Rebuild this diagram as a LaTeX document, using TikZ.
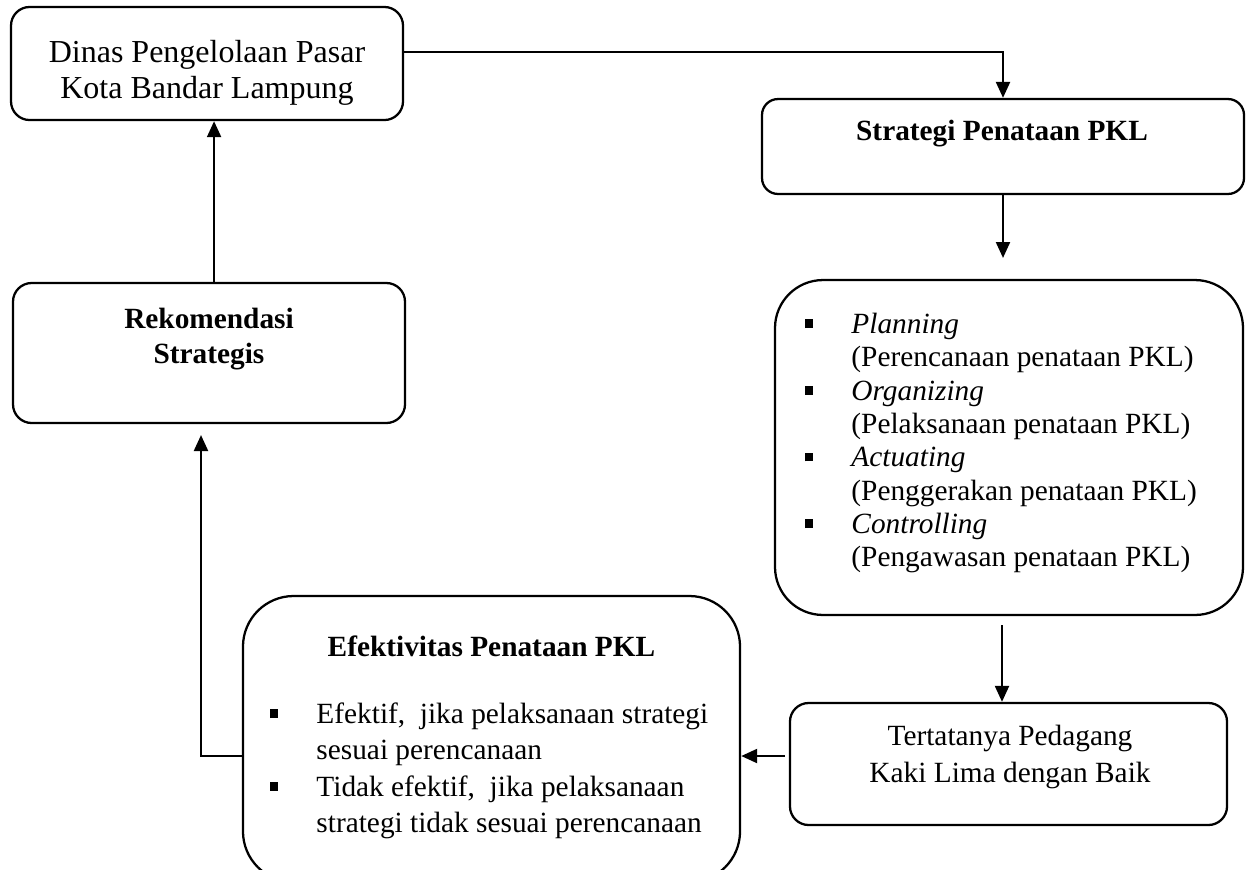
\documentclass[tikz,border=0pt]{standalone}
\usepackage{fontspec}
\setmainfont{Liberation Serif}
\usetikzlibrary{arrows.meta}
\newcommand{\sqbul}{\makebox[17.6pt][l]{\rule[2pt]{3.3pt}{3.3pt}}}
\newcommand{\sqind}{\hspace*{17.6pt}}

\begin{document}
\begin{tikzpicture}[x=0.375pt, y=0.375pt,
    box/.style={draw, line width=0.85pt, rounded corners=#1},
    box/.default=7pt,
    arr/.style={line width=0.95pt, -{Triangle[length=6pt,width=5.2pt]}},
    txt/.style={inner sep=0pt, align=center, font=\fontsize{11}{13.6}\selectfont}]
    \useasboundingbox (0,0) rectangle (1248,-869);
    % boxes
    \node [box, minimum width=147pt, minimum height=42.4pt] (dinas) at (207,-63.5) {};
    \node [box=6pt, minimum width=180.75pt, minimum height=35.6pt] (strategi) at (1003,-146.5) {};
    \node [box=18pt, minimum width=175.5pt, minimum height=125.6pt] (plan) at (1009,-447.5) {};
    \node [box, minimum width=163.9pt, minimum height=45.75pt] (tert) at (1008.5,-764) {};
    \node [box, minimum width=147pt, minimum height=52.5pt] (rek) at (209,-353) {};
    \node [box=19pt, minimum width=186.4pt, minimum height=107.25pt] (efek) at (491.5,-739) {};
    % texts
    \node [txt, font=\fontsize{12}{13.4}\selectfont] (dinasText) at (207,-73) {Dinas Pengelolaan Pasar\\Kota Bandar Lampung};
    \node [txt, font=\fontsize{11}{13}\selectfont\bfseries] (strategiText) at (1002,-134) {Strategi Penataan PKL};
    \node [txt, align=left, anchor=west, font=\fontsize{11}{12.5}\selectfont] (planText) at (804,-443) {%
        \sqbul\textit{Planning}\\\sqind(Perencanaan penataan PKL)\\
        \sqbul\textit{Organizing}\\\sqind(Pelaksanaan penataan PKL)\\
        \sqbul\textit{Actuating}\\\sqind(Penggerakan penataan PKL)\\
        \sqbul\textit{Controlling}\\\sqind(Pengawasan penataan PKL)};
    \node [txt] (tertText) at (1010,-757) {Tertatanya Pedagang\\Kaki Lima dengan Baik};
    \node [txt, font=\fontsize{11}{13.1}\selectfont\bfseries] (rekText) at (209,-338.7) {Rekomendasi\\Strategis};
    \node [txt, font=\fontsize{11}{13}\selectfont\bfseries] (efekTitle) at (491.5,-646) {Efektivitas Penataan PKL};
    \node [txt, align=left, anchor=west, font=\fontsize{11}{13.6}\selectfont] (efekText) at (269,-770.7) {%
        \sqbul Efektif,~ jika pelaksanaan strategi\\\sqind sesuai perencanaan\\
        \sqbul Tidak efektif,~ jika pelaksanaan\\\sqind strategi tidak sesuai perencanaan};
    % connectors
    \coordinate (planIn) at (1003,-258);
    \coordinate (planOut) at (1002,-625);
    \coordinate (tertOut) at (785,-756);
    \coordinate (rekIn) at (201,-435);
    \draw [arr] ([yshift=4.3pt]dinas.east) -| (strategi.north);
    \draw [arr] (strategi.south) -- (planIn);
    \draw [arr] (planOut) -- (planOut |- tert.north);
    \draw [arr] (tertOut) -- (tertOut -| efek.east);
    \draw [arr] (tertOut -| efek.west) -| (rekIn);
    \draw [arr] ([xshift=1.9pt]rek.north) -- ([xshift=1.9pt]rek.north |- dinas.south);
\end{tikzpicture}
\end{document}
